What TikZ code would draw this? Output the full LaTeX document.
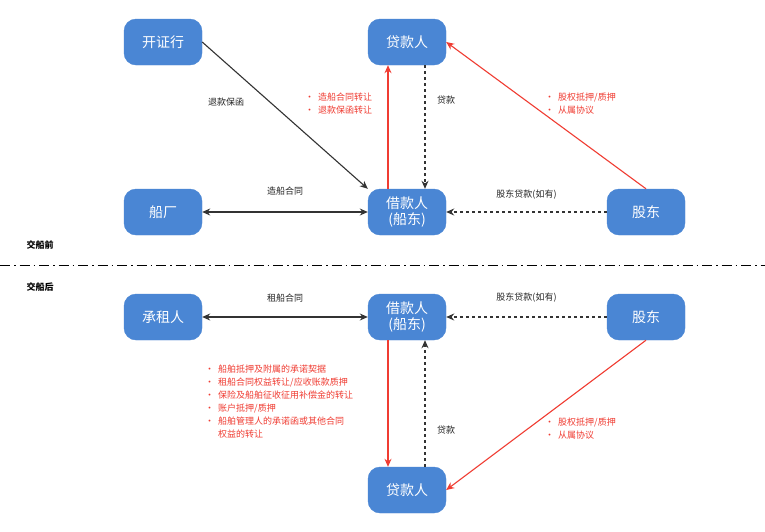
\documentclass[tikz,border=0pt]{standalone}
\usepackage{fontspec}
\setmainfont{Noto Sans CJK SC}
\usetikzlibrary{arrows.meta}
\definecolor{nb}{HTML}{4A86D4}
\definecolor{rd}{HTML}{F03C32}
\begin{document}
\begin{tikzpicture}[x=1pt,y=-1pt,
 box/.style={fill=nb,draw=nb,rounded corners=12pt,minimum width=78pt,minimum height=46pt,text=white,font=\fontsize{14}{16}\selectfont,align=center,inner sep=0pt},
 arr/.style={-{Stealth[length=8pt,width=7pt]},line width=1.1pt},
 red/.style={arr,draw=rd},
 blk/.style={arr,draw=black!80},
 dsh/.style={arr,draw=black!80,dashed},
 lab/.style={font=\fontsize{9}{12}\selectfont,text=black!85,inner sep=0pt},
 rlab/.style={font=\fontsize{9}{13}\selectfont,text=rd,align=left,anchor=north west,inner sep=0pt}]
\useasboundingbox (0,0) rectangle (765,531);
\fill[white] (0,0) rectangle (765,531);
\node[box] (kzh) at (163,42) {开证行};
\node[box] (dk1) at (407,42) {贷款人};
\node[box] (cc) at (163,212) {船厂};
\node[box] (jk1) at (407,212) {借款人\\(船东)};
\node[box] (gd1) at (646,212) {股东};
\node[box] (czr) at (163,317) {承租人};
\node[box] (jk2) at (407,317) {借款人\\(船东)};
\node[box] (gd2) at (646,317) {股东};
\node[box] (dk2) at (407,490) {贷款人};
\draw[dash pattern=on 10pt off 4pt on 1.5pt off 4pt,line width=1pt] (0,265) -- (765,265);
\node[font=\bfseries\fontsize{9}{10}\selectfont] (qian) at (40,245) {交船前};
\node[font=\bfseries\fontsize{9}{10}\selectfont] (hou) at (40,287) {交船后};
% top
\draw[blk] (kzh.east) -- (jk1.north west);
\node[lab] (l1) at (226,102) {退款保函};
\draw[blk,{Stealth[length=8pt,width=7pt]}-{Stealth[length=8pt,width=7pt]}] (cc.east) -- (jk1.west) node[lab,midway,above=16pt] {造船合同};
\draw[red] ([xshift=-19pt]jk1.north) -- ([xshift=-19pt]dk1.south);
\draw[dsh] ([xshift=18pt]dk1.south) -- ([xshift=18pt]jk1.north);
\node[lab] (l2) at (446,100) {贷款};
\node[rlab] (r1) at (305,93) {•\ \ 造船合同转让\\•\ \ 退款保函转让};
\draw[red] (gd1.north) -- (dk1.east);
\node[rlab] (r2) at (545,93) {•\ \ 股权抵押/质押\\•\ \ 从属协议};
\draw[dsh] (gd1.west) -- (jk1.east) node[lab,midway,above=12pt] {股东贷款(如有)};
% bottom
\draw[blk,{Stealth[length=8pt,width=7pt]}-{Stealth[length=8pt,width=7pt]}] (czr.east) -- (jk2.west) node[lab,midway,above=14pt] {租船合同};
\draw[dsh] (gd2.west) -- (jk2.east) node[lab,midway,above=14pt] {股东贷款(如有)};
\draw[red] ([xshift=-19pt]jk2.south) -- ([xshift=-19pt]dk2.north);
\draw[dsh] ([xshift=18pt]dk2.north) -- ([xshift=18pt]jk2.south);
\node[lab] (l3) at (446,430) {贷款};
\draw[red] (gd2.south) -- (dk2.east);
\node[rlab] (r3) at (545,418) {•\ \ 股权抵押/质押\\•\ \ 从属协议};
\node[rlab] (r4) at (205,365) {•\ \ 船舶抵押及附属的承诺契据\\•\ \ 租船合同权益转让/应收账款质押\\•\ \ 保险及船舶征收征用补偿金的转让\\•\ \ 账户抵押/质押\\•\ \ 船舶管理人的承诺函或其他合同\\\phantom{•\ \ }权益的转让};
\end{tikzpicture}
\end{document}
